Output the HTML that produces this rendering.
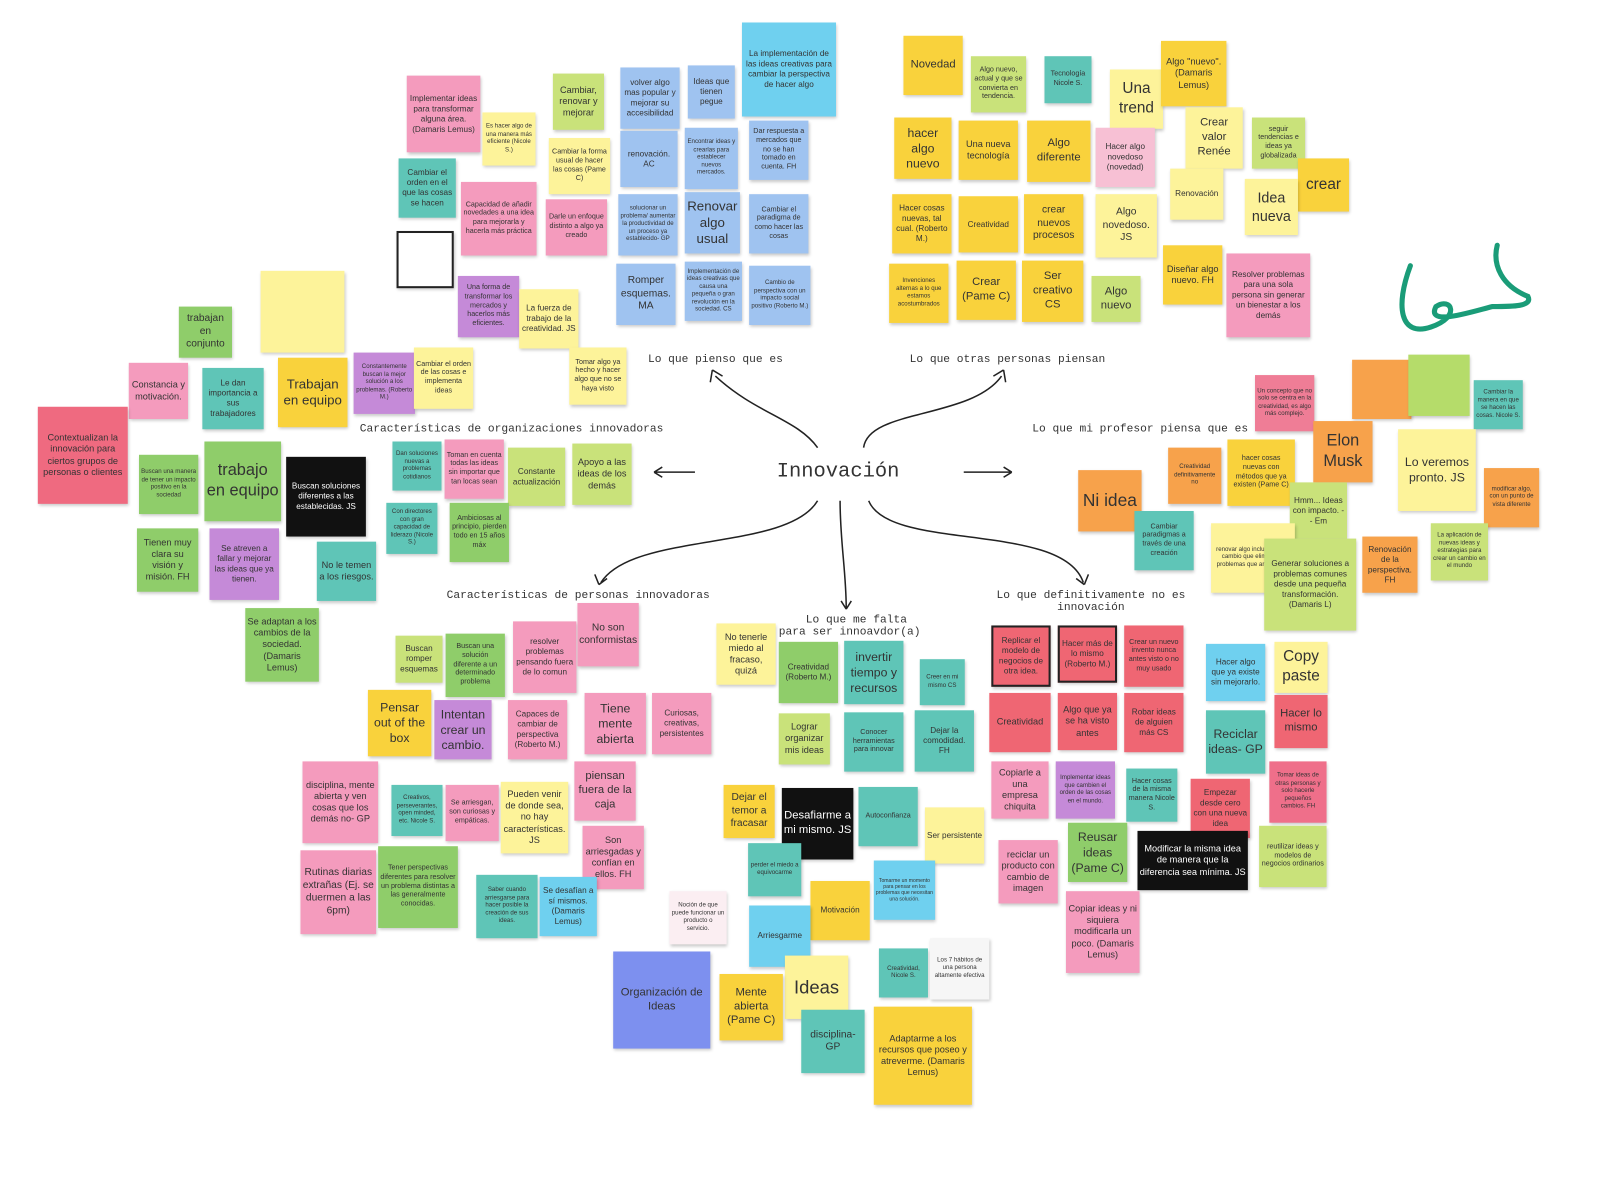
<!DOCTYPE html>
<html><head><meta charset="utf-8"><style>
html,body{margin:0;padding:0;background:#fff;}
body{width:1599px;height:1152px;position:relative;overflow:hidden;font-family:"Liberation Sans",sans-serif;}
#w{position:absolute;left:0;top:0;width:1599px;height:1152px;transform:scale(1.022);transform-origin:0 0;}
.n{position:absolute;display:flex;align-items:center;justify-content:center;text-align:center;box-sizing:border-box;padding:2px;line-height:1.25;color:#333;box-shadow:1px 2px 3px rgba(0,0,0,0.22);overflow:hidden;}
.l{position:absolute;font-family:"Liberation Mono",monospace;font-size:11px;color:#333;white-space:nowrap;}
.pk{background:#f49bbd}.y{background:#f9d23c}.ly{background:#fdf39a}.lg{background:#c9e27a}.g{background:#8fcd6a}
.t{background:#5fc5b7}.b{background:#9fc3f0}.c{background:#6fd0ef}.p{background:#c58ad8}.o{background:#f7a24b}
.r{background:#ef6673}.k{background:#111;color:#fff}.w{background:#f6f6f6}.pw{background:#7d90ef}
</style></head><body><div id="w">
<svg width="1599" height="1152" style="position:absolute;left:0;top:0" fill="none" stroke="#222" stroke-width="1.5">
<path d="M800 438 C780 410 740 405 700 368"/><path d="M697 362 l-2 12 M697 362 l10 6"/>
<path d="M845 438 C850 400 950 410 980 368"/><path d="M982 362 l-10 6 M982 362 l2 12"/>
<path d="M680 462 L640 462 M640 462 l8 -5 M640 462 l8 5"/>
<path d="M943 462 L990 462 M990 462 l-8 -5 M990 462 l-8 5"/>
<path d="M800 490 C770 540 620 520 588 570"/><path d="M586 572 l-4 -10 M586 572 l8 -6"/>
<path d="M822 490 C822 530 828 560 828 595"/><path d="M828 596 l-5 -8 M828 596 l5 -8"/>
<path d="M850 490 C870 540 1040 510 1060 570"/><path d="M1061 572 l-8 -6 M1061 572 l4 -10"/>
<path d="M1380 260 C1365 300 1370 330 1400 320 C1430 310 1420 290 1405 300 C1395 320 1440 305 1460 300 C1480 300 1500 300 1495 290 C1470 280 1460 260 1465 240" stroke="#1a9c78" stroke-width="5" stroke-linecap="round"/>
</svg>
<div class="l" style="left:760px;top:450px;font-size:20px;">Innovación</div>
<div class="l" style="left:634px;top:346px;">Lo que pienso que es</div>
<div class="l" style="left:890px;top:346px;">Lo que otras personas piensan</div>
<div class="l" style="left:1010px;top:414px;">Lo que mi profesor piensa que es</div>
<div class="l" style="left:352px;top:414px;">Características de organizaciones innovadoras</div>
<div class="l" style="left:437px;top:577px;">Características de personas innovadoras</div>
<div class="l" style="left:762px;top:601px;text-align:center;">&nbsp;&nbsp;Lo que me falta<br>para ser innoavdor(a)</div>
<div class="l" style="left:975px;top:577px;text-align:center;">Lo que definitivamente no es<br>innovación</div>
<div class="n" style="left:388px;top:226px;width:56px;height:56px;background:#fff;border:2px solid #222"></div>

<div class="n pk" style="left:398px;top:74px;width:72px;height:75px;font-size:8px">Implementar ideas para transformar alguna área. (Damaris Lemus)</div>
<div class="n ly" style="left:472px;top:110px;width:52px;height:52px;font-size:6px">Es hacer algo de una manera más eficiente (Nicole S.)</div>
<div class="n lg" style="left:541px;top:72px;width:50px;height:55px;font-size:9px">Cambiar, renovar y mejorar</div>
<div class="n b" style="left:607px;top:66px;width:58px;height:60px;font-size:8px">volver algo mas popular y mejorar su accesibilidad</div>
<div class="n b" style="left:673px;top:64px;width:46px;height:52px;font-size:8px">Ideas que tienen pegue</div>
<div class="n c" style="left:726px;top:22px;width:92px;height:92px;font-size:8px">La implementación de las ideas creativas para cambiar la perspectiva de hacer algo</div>
<div class="n t" style="left:390px;top:155px;width:56px;height:58px;font-size:8px">Cambiar el orden en el que las cosas se hacen</div>
<div class="n ly" style="left:537px;top:135px;width:60px;height:55px;font-size:7px">Cambiar la forma usual de hacer las cosas (Pame C)</div>
<div class="n b" style="left:607px;top:128px;width:56px;height:55px;font-size:8px">renovación. AC</div>
<div class="n b" style="left:670px;top:125px;width:52px;height:60px;font-size:6px">Encontrar ideas y crearlas para establecer nuevos mercados.</div>
<div class="n b" style="left:733px;top:118px;width:58px;height:58px;font-size:7px">Dar respuesta a mercados que no se han tomado en cuenta. FH</div>
<div class="n pk" style="left:451px;top:178px;width:74px;height:72px;font-size:7px">Capacidad de añadir novedades a una idea para mejorarla y hacerla más práctica</div>
<div class="n pk" style="left:534px;top:195px;width:60px;height:55px;font-size:7px">Darle un enfoque distinto a algo ya creado</div>
<div class="n b" style="left:605px;top:190px;width:58px;height:60px;font-size:6px">solucionar un problema/ aumentar la productividad de un proceso ya establecido- GP</div>
<div class="n b" style="left:670px;top:188px;width:54px;height:60px;font-size:13px">Renovar algo usual</div>
<div class="n b" style="left:733px;top:190px;width:58px;height:58px;font-size:7px">Cambiar el paradigma de como hacer las cosas</div>
<div class="n p" style="left:448px;top:270px;width:60px;height:60px;font-size:7px">Una forma de transformar los mercados y hacerlos más eficientes.</div>
<div class="n ly" style="left:508px;top:283px;width:58px;height:58px;font-size:8px">La fuerza de trabajo de la creatividad. JS</div>
<div class="n b" style="left:603px;top:258px;width:58px;height:60px;font-size:10px">Romper esquemas. MA</div>
<div class="n b" style="left:670px;top:256px;width:56px;height:58px;font-size:6px">Implementación de ideas creativas que causa una pequeña o gran revolución en la sociedad. CS</div>
<div class="n b" style="left:733px;top:260px;width:60px;height:58px;font-size:6px">Cambio de perspectiva con un impacto social positivo (Roberto M.)</div>
<div class="n ly" style="left:557px;top:340px;width:56px;height:56px;font-size:7px">Tomar algo ya hecho y hacer algo que no se haya visto</div>

<div class="n y" style="left:884px;top:35px;width:58px;height:58px;font-size:11px">Novedad</div>
<div class="n lg" style="left:950px;top:55px;width:54px;height:55px;font-size:7px">Algo nuevo, actual y que se convierta en tendencia.</div>
<div class="n t" style="left:1022px;top:55px;width:46px;height:46px;font-size:7px">Tecnología Nicole S.</div>
<div class="n ly" style="left:1086px;top:68px;width:52px;height:58px;font-size:15px">Una trend</div>
<div class="n y" style="left:1136px;top:40px;width:64px;height:64px;font-size:9px">Algo "nuevo". (Damaris Lemus)</div>
<div class="n y" style="left:875px;top:115px;width:56px;height:60px;font-size:12px">hacer algo nuevo</div>
<div class="n y" style="left:938px;top:118px;width:58px;height:58px;font-size:9px">Una nueva tecnología</div>
<div class="n y" style="left:1005px;top:118px;width:62px;height:60px;font-size:11px">Algo diferente</div>
<div class="n pk" style="left:1072px;top:125px;width:58px;height:58px;font-size:8px;background:#f7c0d4">Hacer algo novedoso (novedad)</div>
<div class="n ly" style="left:1160px;top:105px;width:56px;height:60px;font-size:11px">Crear valor Renée</div>
<div class="n lg" style="left:1225px;top:115px;width:52px;height:50px;font-size:7px">seguir tendencias e ideas ya globalizada</div>
<div class="n y" style="left:1270px;top:155px;width:50px;height:52px;font-size:15px">crear</div>
<div class="n y" style="left:873px;top:190px;width:58px;height:58px;font-size:8px">Hacer cosas nuevas, tal cual. (Roberto M.)</div>
<div class="n y" style="left:938px;top:192px;width:58px;height:55px;font-size:8px">Creatividad</div>
<div class="n y" style="left:1002px;top:190px;width:58px;height:58px;font-size:10px">crear nuevos procesos</div>
<div class="n ly" style="left:1072px;top:190px;width:60px;height:62px;font-size:10px">Algo novedoso. JS</div>
<div class="n ly" style="left:1145px;top:165px;width:52px;height:50px;font-size:8px">Renovación</div>
<div class="n ly" style="left:1218px;top:175px;width:52px;height:55px;font-size:14px">Idea nueva</div>
<div class="n y" style="left:870px;top:258px;width:58px;height:58px;font-size:6px">Invenciones alternas a lo que estamos acostumbrados</div>
<div class="n y" style="left:936px;top:255px;width:58px;height:58px;font-size:11px">Crear (Pame C)</div>
<div class="n y" style="left:1000px;top:255px;width:60px;height:60px;font-size:11px">Ser creativo CS</div>
<div class="n lg" style="left:1068px;top:270px;width:48px;height:45px;font-size:11px">Algo nuevo</div>
<div class="n y" style="left:1138px;top:240px;width:58px;height:58px;font-size:9px">Diseñar algo nuevo. FH</div>
<div class="n pk" style="left:1200px;top:248px;width:82px;height:82px;font-size:8px">Resolver problemas para una sola persona sin generar un bienestar a los demás</div>

<div class="n pk" style="left:1228px;top:367px;width:58px;height:55px;font-size:6px;background:#ef7d96">Un concepto que no solo se centra en la creatividad, es algo más complejo.</div>
<div class="n o" style="left:1323px;top:352px;width:58px;height:58px"></div>
<div class="n lg" style="left:1378px;top:347px;width:60px;height:60px;background:#b5dc6a"></div>
<div class="n t" style="left:1442px;top:372px;width:48px;height:48px;font-size:6px">Cambiar la manera en que se hacen las cosas. Nicole S.</div>
<div class="n o" style="left:1285px;top:412px;width:58px;height:60px;font-size:16px">Elon Musk</div>
<div class="n ly" style="left:1368px;top:420px;width:76px;height:80px;font-size:12px">Lo veremos pronto. JS</div>
<div class="n o" style="left:1143px;top:438px;width:52px;height:55px;font-size:6px">Creatividad definitivamente no</div>
<div class="n y" style="left:1201px;top:430px;width:66px;height:65px;font-size:7px">hacer cosas nuevas con métodos que ya existen (Pame C)</div>
<div class="n o" style="left:1055px;top:460px;width:62px;height:60px;font-size:17px">Ni idea</div>
<div class="n lg" style="left:1262px;top:472px;width:56px;height:55px;font-size:8px">Hmm... Ideas con impacto. -- Em</div>
<div class="n o" style="left:1452px;top:458px;width:54px;height:58px;font-size:6px">modificar algo, con un punto de vista diferente</div>
<div class="n t" style="left:1110px;top:500px;width:58px;height:58px;font-size:7px">Cambiar paradigmas a través de una creación</div>
<div class="n ly" style="left:1185px;top:512px;width:82px;height:68px;font-size:6px">renovar algo incluyendo un cambio que elimine los problemas que antes tenía</div>
<div class="n lg" style="left:1237px;top:527px;width:90px;height:90px;font-size:8px">Generar soluciones a problemas comunes desde una pequeña transformación. (Damaris L)</div>
<div class="n o" style="left:1333px;top:525px;width:54px;height:55px;font-size:8px">Renovación de la perspectiva. FH</div>
<div class="n lg" style="left:1400px;top:512px;width:56px;height:56px;font-size:6px">La aplicación de nuevas ideas y estrategias para crear un cambio en el mundo</div>

<div class="n r" style="left:970px;top:612px;width:58px;height:60px;font-size:8px;border:2px solid #222">Replicar el modelo de negocios de otra idea.</div>
<div class="n r" style="left:1035px;top:612px;width:58px;height:56px;font-size:8px;border:2px solid #222">Hacer más de lo mismo (Roberto M.)</div>
<div class="n r" style="left:1100px;top:612px;width:58px;height:60px;font-size:7px">Crear un nuevo invento nunca antes visto o no muy usado</div>
<div class="n c" style="left:1180px;top:630px;width:58px;height:56px;font-size:8px">Hacer algo que ya existe sin mejorarlo.</div>
<div class="n ly" style="left:1247px;top:628px;width:52px;height:50px;font-size:15px">Copy paste</div>
<div class="n r" style="left:968px;top:678px;width:60px;height:58px;font-size:9px">Creatividad</div>
<div class="n r" style="left:1035px;top:678px;width:58px;height:56px;font-size:9px">Algo que ya se ha visto antes</div>
<div class="n r" style="left:1100px;top:678px;width:58px;height:58px;font-size:8px">Robar ideas de alguien más CS</div>
<div class="n r" style="left:1247px;top:680px;width:52px;height:52px;font-size:11px">Hacer lo mismo</div>
<div class="n t" style="left:1180px;top:695px;width:58px;height:62px;font-size:12px">Reciclar ideas- GP</div>
<div class="n pk" style="left:970px;top:745px;width:56px;height:56px;font-size:9px">Copiarle a una empresa chiquita</div>
<div class="n p" style="left:1033px;top:745px;width:58px;height:56px;font-size:6px">Implementar ideas que cambien el orden de las cosas en el mundo.</div>
<div class="n t" style="left:1102px;top:752px;width:50px;height:52px;font-size:7px">Hacer cosas de la misma manera Nicole S.</div>
<div class="n r" style="left:1165px;top:762px;width:58px;height:58px;font-size:8px">Empezar desde cero con una nueva idea</div>
<div class="n pk" style="left:1242px;top:745px;width:56px;height:60px;font-size:6px;background:#ef6f8a">Tomar ideas de otras personas y solo hacerle pequeños cambios. FH</div>
<div class="n lg" style="left:1232px;top:808px;width:66px;height:60px;font-size:7px">reutilizar ideas y modelos de negocios ordinarios</div>
<div class="n g" style="left:1045px;top:805px;width:58px;height:58px;font-size:12px">Reusar ideas (Pame C)</div>
<div class="n k" style="left:1113px;top:813px;width:108px;height:58px;font-size:9px">Modificar la misma idea de manera que la diferencia sea mínima. JS</div>
<div class="n pk" style="left:977px;top:822px;width:58px;height:62px;font-size:9px">reciclar un producto con cambio de imagen</div>
<div class="n pk" style="left:1043px;top:872px;width:72px;height:80px;font-size:9px">Copiar ideas y ni siquiera modificarla un poco. (Damaris Lemus)</div>

<div class="n ly" style="left:701px;top:610px;width:58px;height:60px;font-size:9px">No tenerle miedo al fracaso, quizá</div>
<div class="n g" style="left:762px;top:628px;width:58px;height:60px;font-size:8px">Creatividad (Roberto M.)</div>
<div class="n t" style="left:826px;top:627px;width:58px;height:62px;font-size:12px">invertir tiempo y recursos</div>
<div class="n t" style="left:900px;top:645px;width:44px;height:45px;font-size:6px">Creer en mi mismo CS</div>
<div class="n lg" style="left:762px;top:698px;width:50px;height:50px;font-size:9px">Lograr organizar mis ideas</div>
<div class="n t" style="left:826px;top:697px;width:58px;height:58px;font-size:7px">Conocer herramientas para innovar</div>
<div class="n t" style="left:895px;top:695px;width:58px;height:60px;font-size:8px">Dejar la comodidad. FH</div>
<div class="n y" style="left:708px;top:768px;width:50px;height:52px;font-size:10px">Dejar el temor a fracasar</div>
<div class="n k" style="left:765px;top:771px;width:70px;height:70px;font-size:11px">Desafiarme a mi mismo. JS</div>
<div class="n t" style="left:840px;top:770px;width:58px;height:58px;font-size:7px">Autoconfianza</div>
<div class="n ly" style="left:905px;top:790px;width:58px;height:55px;font-size:8px">Ser persistente</div>
<div class="n t" style="left:732px;top:825px;width:52px;height:52px;font-size:6px">perder el miedo a equivocarme</div>
<div class="n c" style="left:855px;top:842px;width:60px;height:58px;font-size:5px">Tomarme un momento para pensar en los problemas que necesitan una solución.</div>
<div class="n w" style="left:655px;top:872px;width:56px;height:52px;font-size:6px;background:#fbeef2">Noción de que puede funcionar un producto o servicio.</div>
<div class="n y" style="left:793px;top:862px;width:58px;height:58px;font-size:8px">Motivación</div>
<div class="n c" style="left:733px;top:886px;width:60px;height:60px;font-size:8px">Arriesgarme</div>
<div class="n ly" style="left:768px;top:935px;width:62px;height:62px;font-size:18px">Ideas</div>
<div class="n t" style="left:860px;top:928px;width:48px;height:48px;font-size:6px">Creatividad, Nicole S.</div>
<div class="n w" style="left:910px;top:918px;width:58px;height:60px;font-size:6px">Los 7 hábitos de una persona altamente efectiva</div>
<div class="n pw" style="left:600px;top:931px;width:95px;height:95px;font-size:11px">Organización de Ideas</div>
<div class="n y" style="left:704px;top:953px;width:62px;height:65px;font-size:11px">Mente abierta (Pame C)</div>
<div class="n t" style="left:784px;top:988px;width:62px;height:62px;font-size:10px">disciplina- GP</div>
<div class="n y" style="left:855px;top:985px;width:96px;height:96px;font-size:9px">Adaptarme a los recursos que poseo y atreverme. (Damaris Lemus)</div>

<div class="n pk" style="left:502px;top:608px;width:62px;height:70px;font-size:8px">resolver problemas pensando fuera de lo comun</div>
<div class="n pk" style="left:565px;top:590px;width:60px;height:62px;font-size:10px">No son conformistas</div>
<div class="n lg" style="left:387px;top:622px;width:46px;height:46px;font-size:8px">Buscan romper esquemas</div>
<div class="n g" style="left:436px;top:620px;width:58px;height:62px;font-size:7px">Buscan una solución diferente a un determinado problema</div>
<div class="n y" style="left:360px;top:675px;width:62px;height:65px;font-size:12px">Pensar out of the box</div>
<div class="n p" style="left:425px;top:685px;width:56px;height:58px;font-size:12px">Intentan crear un cambio.</div>
<div class="n pk" style="left:497px;top:685px;width:58px;height:58px;font-size:8px">Capaces de cambiar de perspectiva (Roberto M.)</div>
<div class="n pk" style="left:572px;top:678px;width:60px;height:60px;font-size:12px">Tiene mente abierta</div>
<div class="n pk" style="left:638px;top:678px;width:58px;height:60px;font-size:8px">Curiosas, creativas, persistentes</div>
<div class="n pk" style="left:296px;top:745px;width:74px;height:80px;font-size:9px">disciplina, mente abierta y ven cosas que los demás no- GP</div>
<div class="n t" style="left:383px;top:768px;width:50px;height:50px;font-size:6px">Creativos, perseverantes, open minded, etc. Nicole S.</div>
<div class="n pk" style="left:436px;top:768px;width:52px;height:55px;font-size:7px">Se arriesgan, son curiosas y empáticas.</div>
<div class="n ly" style="left:490px;top:765px;width:66px;height:70px;font-size:9px">Pueden venir de donde sea, no hay características. JS</div>
<div class="n pk" style="left:562px;top:745px;width:60px;height:58px;font-size:11px">piensan fuera de la caja</div>
<div class="n pk" style="left:294px;top:832px;width:74px;height:82px;font-size:10px">Rutinas diarias extrañas (Ej. se duermen a las 6pm)</div>
<div class="n g" style="left:370px;top:828px;width:78px;height:80px;font-size:7px">Tener perspectivas diferentes para resolver un problema distintas a las generalmente conocidas.</div>
<div class="n pk" style="left:570px;top:808px;width:60px;height:62px;font-size:9px">Son arriesgadas y confían en ellos. FH</div>
<div class="n t" style="left:466px;top:856px;width:60px;height:62px;font-size:6px">Saber cuando arriesgarse para hacer posible la creación de sus ideas.</div>
<div class="n c" style="left:528px;top:858px;width:56px;height:58px;font-size:8px">Se desafían a sí mismos. (Damaris Lemus)</div>

<div class="n ly" style="left:255px;top:265px;width:82px;height:80px"></div>
<div class="n g" style="left:175px;top:300px;width:52px;height:50px;font-size:10px">trabajan en conjunto</div>
<div class="n pk" style="left:126px;top:355px;width:58px;height:55px;font-size:9px">Constancia y motivación.</div>
<div class="n t" style="left:198px;top:360px;width:60px;height:60px;font-size:8px">Le dan importancia a sus trabajadores</div>
<div class="n y" style="left:272px;top:350px;width:68px;height:68px;font-size:13px">Trabajan en equipo</div>
<div class="n p" style="left:346px;top:345px;width:60px;height:60px;font-size:6px">Constantemente buscan la mejor solución a los problemas. (Roberto M.)</div>
<div class="n ly" style="left:405px;top:340px;width:58px;height:60px;font-size:7px">Cambiar el orden de las cosas e implementa ideas</div>
<div class="n r" style="left:37px;top:398px;width:88px;height:95px;font-size:9px;background:#ef6a80">Contextualizan la innovación para ciertos grupos de personas o clientes</div>
<div class="n t" style="left:384px;top:432px;width:48px;height:48px;font-size:6px">Dan soluciones nuevas a problemas cotidianos</div>
<div class="n pk" style="left:435px;top:430px;width:58px;height:58px;font-size:7px">Toman en cuenta todas las ideas sin importar que tan locas sean</div>
<div class="n lg" style="left:497px;top:438px;width:56px;height:57px;font-size:8px">Constante actualización</div>
<div class="n lg" style="left:560px;top:434px;width:58px;height:60px;font-size:9px">Apoyo a las ideas de los demás</div>
<div class="n g" style="left:136px;top:445px;width:58px;height:58px;font-size:6px">Buscan una manera de tener un impacto positivo en la sociedad</div>
<div class="n g" style="left:200px;top:432px;width:75px;height:78px;font-size:16px">trabajo en equipo</div>
<div class="n k" style="left:280px;top:447px;width:78px;height:78px;font-size:8px">Buscan soluciones diferentes a las establecidas. JS</div>
<div class="n t" style="left:378px;top:492px;width:50px;height:50px;font-size:6px">Con directores con gran capacidad de liderazo (Nicole S.)</div>
<div class="n g" style="left:440px;top:492px;width:58px;height:58px;font-size:7px">Ambiciosas al principio, pierden todo en 15 años máx</div>
<div class="n g" style="left:134px;top:517px;width:60px;height:62px;font-size:9px">Tienen muy clara su visión y misión. FH</div>
<div class="n p" style="left:205px;top:517px;width:68px;height:70px;font-size:8px">Se atreven a fallar y mejorar las ideas que ya tienen.</div>
<div class="n t" style="left:310px;top:530px;width:58px;height:58px;font-size:9px">No le temen a los riesgos.</div>
<div class="n g" style="left:240px;top:595px;width:72px;height:72px;font-size:9px">Se adaptan a los cambios de la sociedad. (Damaris Lemus)</div>
</div></body></html>
